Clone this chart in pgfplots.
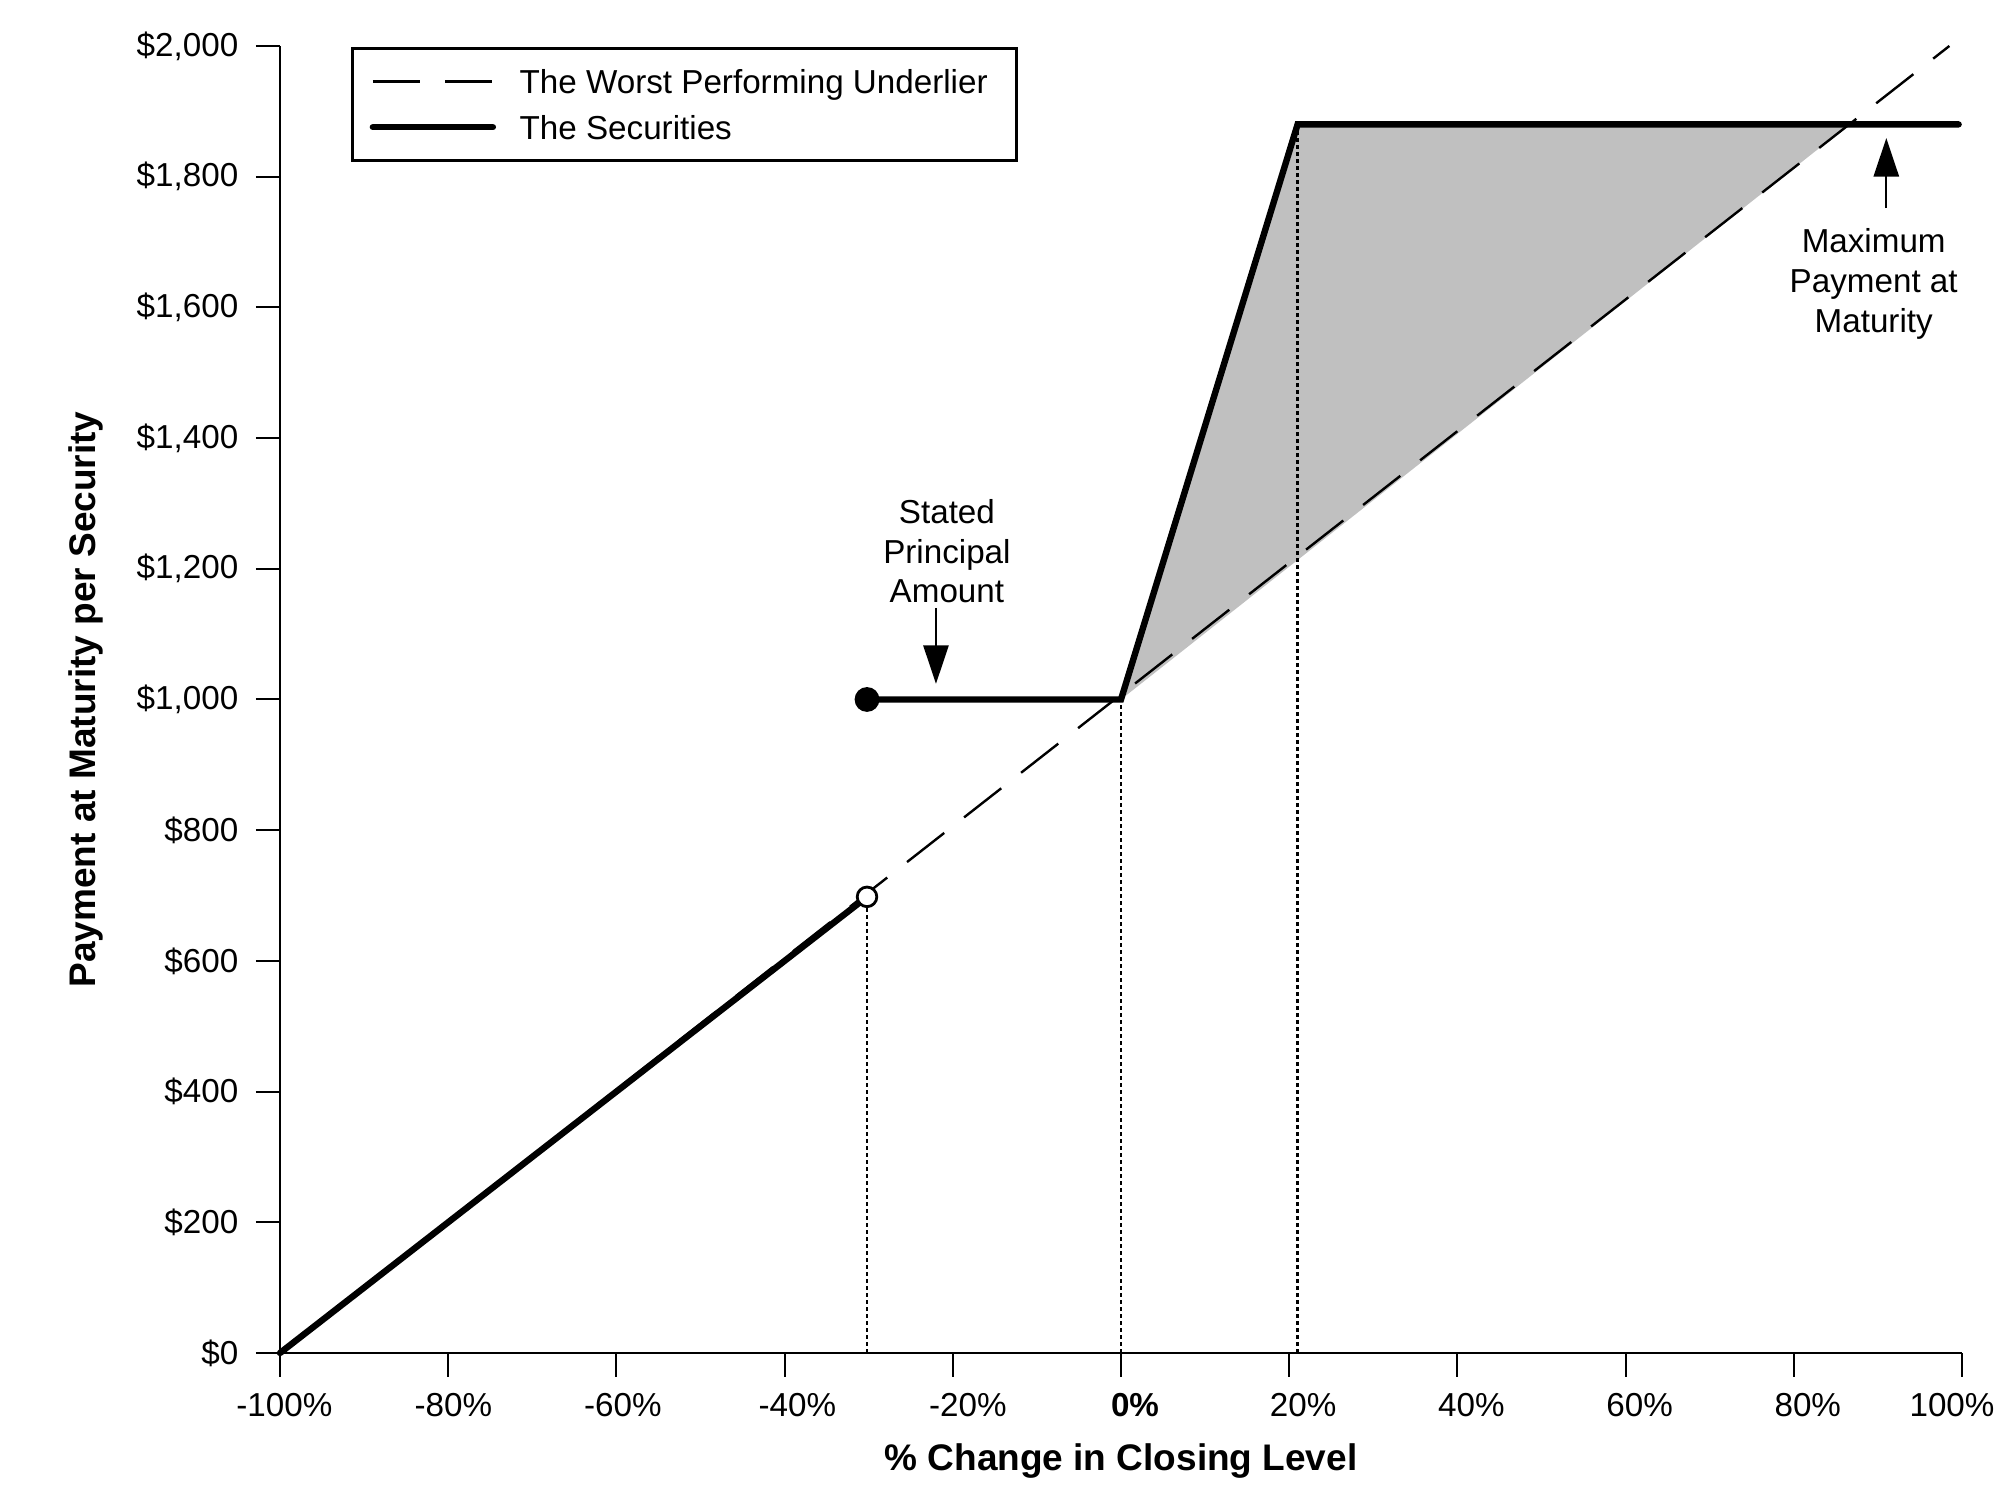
\documentclass[border=0pt]{standalone}
\usepackage{fontspec}
\setmainfont{Liberation Sans}
\usepackage{pgfplots}
\pgfplotsset{compat=1.18}
\usetikzlibrary{arrows.meta}
\definecolor{fillgray}{RGB}{192,192,192}
\newcommand{\sh}[2]{\hspace*{#1}#2}
\begin{document}
\begin{tikzpicture}
\begin{axis}[
  scale only axis, width=420.5pt, height=326.75pt,
  xmin=-100, xmax=100, ymin=0, ymax=2000,
  axis x line*=bottom, axis y line*=left,
  axis line style={line width=0.5pt, black},
  tick align=outside, major tick length=6pt,
  tick style={line width=0.5pt, black},
  xtick={-100,-80,...,100},
  xticklabels={\sh{2.2pt}{-100\%},\sh{2.6pt}{-80\%},\sh{3.2pt}{-60\%},\sh{6.4pt}{-40\%},\sh{7.5pt}{-20\%},\sh{7pt}{\textbf{0\%}},\sh{7pt}{20\%},\sh{7pt}{40\%},\sh{7pt}{60\%},\sh{7pt}{80\%},\sh{-5pt}{100\%}},
  ytick={0,200,...,2000},
  yticklabels={\$0,\$200,\$400,\$600,\$800,{\$1,000},{\$1,200},{\$1,400},{\$1,600},{\$1,800},{\$2,000}},
  ticklabel style={font=\fontsize{8.3}{10}\selectfont},
  xticklabel style={yshift=-0.5pt},
  yticklabel style={xshift=-0.9pt},
  xlabel={\% Change in Closing Level},
  ylabel={Payment at Maturity per Security},
  label style={font=\fontsize{9.25}{11}\selectfont\bfseries},
  xlabel style={at={([yshift=-27pt]axis description cs:0.5,0)}, anchor=center},
  ylabel style={at={([xshift=-48.5pt]axis description cs:0,0.5)}, anchor=center},
  clip=false,
  legend style={at={(0.0425,0.999)}, anchor=north west, draw=black, line width=0.6pt, fill=white,
    inner xsep=4.25pt, inner ysep=5.3pt, row sep=5.4pt, column sep=5.9pt,
    font=\fontsize{8.3}{10}\selectfont,
    nodes={inner sep=0pt, text height=6pt, text depth=0pt}},
  legend cell align=left,
  legend image code/.code={\draw[#1] (0pt,0pt) -- (30pt,0pt);},
]
% shaded region
\addplot[draw=none, fill=fillgray, forget plot] coordinates {(0,1000) (21,1880) (86.6,1880)};
% dotted guide lines
\addplot[black, line width=0.65pt, dash pattern=on 1pt off 0.75pt, forget plot] coordinates {(-30.2,0) (-30.2,700)};
\addplot[black, line width=0.65pt, dash pattern=on 1pt off 0.75pt, forget plot] coordinates {(0,0) (0,1000)};
\addplot[black, line width=0.65pt, dash pattern=on 1pt off 0.75pt, forget plot] coordinates {(21,0) (21,1880)};
% underlier
\addplot[black, line width=0.6pt, dash pattern=on 11.8pt off 6.3pt] coordinates {(-100,0) (98.5,2000)};
\addlegendentry{The Worst Performing Underlier\hspace*{2.9pt}}
% securities
\addplot[black, line width=1.6pt, line cap=round] coordinates {(-100,0) (-30.2,698)};
\addlegendentry{The Securities}
\addplot[black, line width=1.6pt, line cap=round, forget plot] coordinates {(-30.2,1000) (0,1000) (21,1880) (99.6,1880)};
\addplot[only marks, mark=*, mark size=2.9pt, mark options={fill=black, draw=black}, forget plot] coordinates {(-30.2,1000)};
\addplot[only marks, mark=*, mark size=2.45pt, mark options={fill=white, draw=black, line width=0.7pt}, forget plot] coordinates {(-30.2,698)};
% annotations
\draw[line width=0.5pt, -{Triangle[length=9.6pt, width=6.3pt]}] (axis cs:-22,1140) -- (axis cs:-22,1024);
\node[align=center, font=\fontsize{8.3}{9.8}\selectfont, inner sep=0pt] at (axis cs:-20.7,1227) {Stated\\Principal\\Amount};
\draw[line width=0.5pt, -{Triangle[length=9.6pt, width=6.3pt]}] (axis cs:91,1752) -- (axis cs:91,1859);
\node[align=center, font=\fontsize{8.3}{9.9}\selectfont, inner sep=0pt] at (axis cs:89.5,1636) {Maximum\\Payment at\\Maturity};
\end{axis}
\pgfresetboundingbox
\useasboundingbox (-70pt,-38.25pt) rectangle (428.5pt,338.25pt);
\end{tikzpicture}
\end{document}
